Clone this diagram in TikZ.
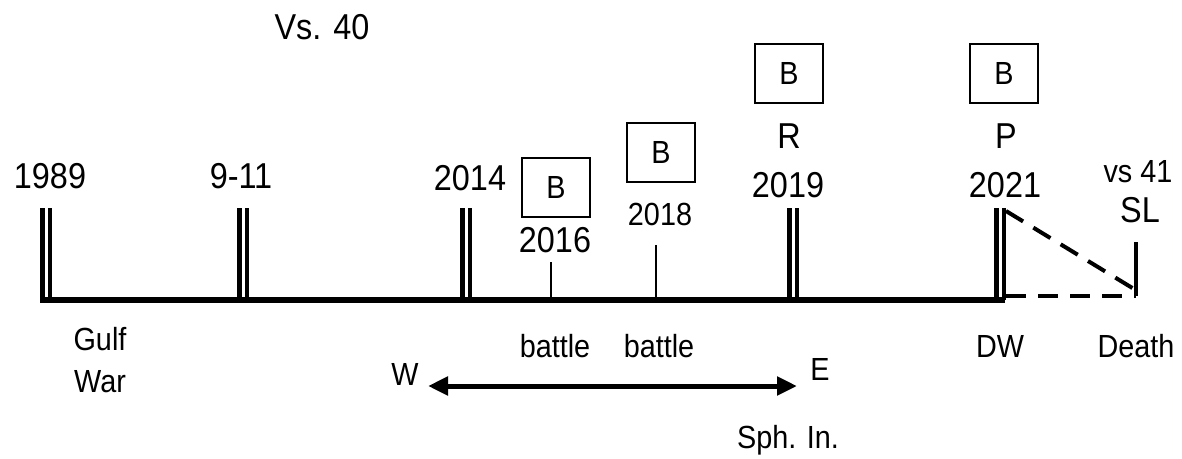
\documentclass[tikz,border=0pt]{standalone}
\usepackage{fontspec}
\setmainfont{Liberation Sans}[FakeStretch=0.9]
\usetikzlibrary{arrows.meta}
\tikzset{
  big/.style={font=\fontsize{36}{40}\selectfont, inner sep=0pt, anchor=base},
  med/.style={font=\fontsize{32}{36}\selectfont, inner sep=0pt, anchor=base},
  bbox/.style={draw, line width=1.6pt, minimum width=68pt, minimum height=59pt, inner sep=0pt, font=\fontsize{32}{36}\selectfont},
  bar/.style={line width=4.8pt},
  axis/.style={line width=6pt},
  tick/.style={line width=1.5pt},
  dashline/.style={line width=4pt, dash pattern=on 20pt off 12pt},
  twoarrow/.style={line width=5pt, {Triangle[length=20pt,width=18pt]}-{Triangle[length=20pt,width=18pt]}}
}
\begin{document}
\begin{tikzpicture}[x=1pt,y=-1pt]
\useasboundingbox (0,0) rectangle (1182,458);
% axis
\coordinate (a0) at (40,300);
\coordinate (a1) at (1005,300);
\draw[axis] (a0) -- (a1);
% double bars
\foreach \n/\x in {b1989/40, b911/237, b2014/460, b2019/787, b2021/994}{
  \coordinate (\n l) at (\x+2.4,208);
  \coordinate (\n r) at (\x+10,208);
  \draw[bar] (\n l) -- (\n l |- a0);
  \draw[bar] (\n r) -- (\n r |- a0);
}
% thin ticks
\coordinate (t16) at (551,262);
\coordinate (t18) at (656,245);
\draw[tick] (t16) -- (t16 |- a0);
\draw[tick] (t18) -- (t18 |- a0);
% year labels
\node[big] (l1989) at (50,188) {1989};
\node[big] (l911) at (241,188) {9-11};
\node[big] (l2014) at (470,190) {2014};
\node[big] (l2016) at (555,252) {2016};
\node[med] (l2018) at (660,225) {2018};
\node[big] (lR) at (789,148) {R};
\node[big] (l2019) at (788,197) {2019};
\node[big] (lP) at (1006,148) {P};
\node[big] (l2021) at (1005,197) {2021};
\node[big] (vs40) at (322,39) {Vs. 40};
\node[med] (vs41) at (1138,182) {vs 41};
\node[big] (SL) at (1140,222) {SL};
% boxes
\node[bbox] (B16) at (556,187.5) {B};
\node[bbox] (B18) at (661,152.5) {B};
\node[bbox] (B19) at (789,73.5) {B};
\node[bbox] (B21) at (1004,73.5) {B};
% lower labels
\node[med] (gulf) at (100,350) {Gulf};
\node[med] (war) at (100,392) {War};
\node[med] (bat1) at (555,357) {battle};
\node[med] (bat2) at (659,357) {battle};
\node[med] (DW) at (1000,357) {DW};
\node[med] (death) at (1136,357) {Death};
\node[med] (W) at (405,385) {W};
\node[med] (E) at (820,380) {E};
\node[med] (sph) at (788,448) {Sph. In.};
% arrow
\coordinate (wend) at (428,386);
\coordinate (eend) at (797,386);
\draw[twoarrow] (wend) -- (eend);
% SL marker and dashes
\coordinate (slTop) at (1136,242);
\coordinate (slBot) at (1136,296);
\draw[line width=4pt] (slTop) -- (slBot);
\coordinate (d0) at (1006,211);
\coordinate (d1) at (1134,289);
\coordinate (h0) at (1006,295.5);
\draw[dashline] (d0) -- (d1);
\draw[dashline] (h0) -- (h0 -| slBot);
\end{tikzpicture}
\end{document}
